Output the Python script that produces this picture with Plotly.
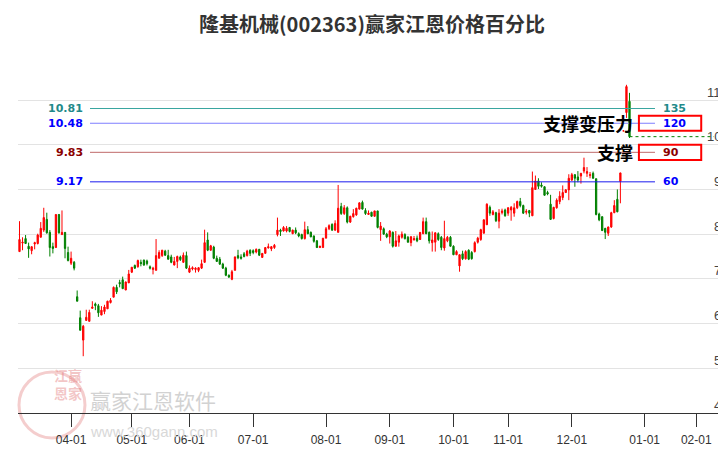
import plotly.graph_objects as go

# daily OHLC, one entry per trading day (index 0 = first candle)
open_ = [
    7.61, 7.80, 7.90, 7.73, 7.63, 7.78, 7.79, 7.93, 8.09, 8.33, 8.04, 7.72, 7.70, 8.44, 7.99, 8.04, 7.59, 7.35, 7.37,
    6.60, 6.13, 5.63, 6.07, 6.05, 6.34, 6.44, 6.40, 6.19, 6.27, 6.33, 6.47, 6.59, 6.81, 6.92, 6.98, 6.75, 6.91,
    7.15, 7.30, 7.27, 7.37, 7.42, 7.40, 7.27, 7.21, 7.19, 7.46, 7.52, 7.62, 7.52, 7.49, 7.31, 7.39, 7.49, 7.37, 7.52,
    7.15, 7.22, 7.21, 7.19, 7.24, 7.37, 7.87, 7.64, 7.71, 7.46, 7.44, 7.33, 7.24, 7.08, 6.99, 7.19, 7.52, 7.49, 7.56, 7.52,
    7.64, 7.63, 7.60, 7.66, 7.48, 7.57, 7.69, 7.67, 7.70, 7.99, 8.09, 8.07, 8.07, 8.15, 8.01, 8.09, 8.01, 7.99, 7.90, 8.10,
    8.04, 7.96, 7.85, 7.70, 7.70, 7.91, 8.12, 8.22, 8.09, 8.04, 8.62, 8.46, 8.59, 8.27, 8.39, 8.43, 8.56, 8.71, 8.53, 8.44,
    8.49, 8.40, 8.52, 8.10, 8.12, 8.00, 7.94, 8.04, 7.73, 7.82, 7.93, 7.99, 7.93, 7.81, 7.87, 7.91, 7.88, 8.01, 8.28, 8.04,
    7.81, 7.82, 8.01, 7.93, 7.69, 7.85, 7.93, 7.73, 7.54, 7.29, 7.56, 7.45, 7.64, 7.59, 7.61, 7.82, 7.88,
    8.02, 8.21, 8.60, 8.44, 8.48, 8.29, 8.48, 8.54, 8.47, 8.54, 8.47, 8.59, 8.73, 8.64, 8.49, 8.53, 8.41, 9.00, 9.19, 9.10,
    9.06, 8.93, 8.67, 8.35, 8.59, 8.73, 8.82, 8.93, 8.99, 9.21, 9.33, 9.28, 9.30, 9.41, 9.36, 9.31, 9.36, 9.24, 8.45, 8.39,
    8.13, 8.02, 8.16, 8.48, 8.78, 9.18,
    10.31, 10.72, 10.97,
]
high = [
    8.29, 7.93, 7.98, 7.81, 7.72, 7.83, 8.01, 8.27, 8.59, 8.48, 8.09, 7.81, 8.44, 8.45, 8.53, 8.04, 7.72, 7.61, 7.40,
    6.74, 6.29, 5.97, 6.31, 6.31, 6.50, 6.47, 6.44, 6.39, 6.42, 6.51, 6.57, 6.83, 6.87, 6.98, 7.05, 6.94, 7.20,
    7.26, 7.32, 7.43, 7.43, 7.43, 7.43, 7.30, 7.27, 7.89, 7.64, 7.65, 7.65, 7.65, 7.54, 7.49, 7.52, 7.52, 7.59, 7.61,
    7.30, 7.28, 7.26, 7.26, 7.43, 8.10, 8.04, 7.76, 7.74, 7.52, 7.49, 7.36, 7.27, 7.10, 7.20, 7.50, 7.65, 7.55, 7.60, 7.65,
    7.66, 7.66, 7.68, 7.67, 7.57, 7.71, 7.79, 7.73, 7.78, 8.37, 8.12, 8.18, 8.18, 8.16, 8.10, 8.15, 8.04, 8.01, 8.28, 8.18,
    8.06, 7.97, 7.87, 7.74, 7.91, 8.16, 8.22, 8.24, 8.31, 9.10, 8.70, 8.65, 8.62, 8.41, 8.56, 8.59, 8.71, 8.75, 8.58, 8.53,
    8.50, 8.52, 8.52, 8.27, 8.15, 8.03, 8.09, 8.06, 8.07, 7.99, 8.06, 8.02, 7.96, 7.96, 7.96, 7.97, 8.04, 8.37, 8.37, 8.06,
    8.06, 8.04, 8.04, 7.96, 8.30, 7.96, 7.96, 7.75, 7.64, 7.54, 7.63, 7.64, 7.66, 7.62, 7.84, 7.94, 8.12,
    8.33, 8.69, 8.64, 8.54, 8.50, 8.56, 8.57, 8.57, 8.60, 8.63, 8.69, 8.75, 8.81, 8.66, 8.56, 8.54, 9.40, 9.31, 9.25, 9.16,
    9.07, 8.97, 8.88, 8.61, 8.80, 8.96, 9.09, 9.01, 9.34, 9.37, 9.34, 9.41, 9.37, 9.71, 9.50, 9.39, 9.40, 9.24, 8.48, 8.40,
    8.14, 8.17, 8.50, 8.76, 9.00, 9.37,
    10.31, 11.34, 11.16,
]
low = [
    7.60, 7.64, 7.79, 7.47, 7.55, 7.66, 7.77, 7.93, 8.05, 8.01, 7.50, 7.57, 7.70, 8.01, 7.98, 7.46, 7.39, 7.31, 7.19,
    6.50, 5.85, 5.27, 6.07, 6.05, 6.34, 6.30, 6.15, 6.19, 6.21, 6.33, 6.45, 6.59, 6.66, 6.81, 6.78, 6.75, 6.91,
    7.13, 7.22, 7.25, 7.28, 7.29, 7.30, 7.21, 7.10, 7.19, 7.46, 7.49, 7.51, 7.43, 7.35, 7.30, 7.24, 7.40, 7.36, 7.22,
    7.13, 7.19, 7.14, 7.15, 7.22, 7.36, 7.62, 7.63, 7.44, 7.38, 7.31, 7.22, 7.06, 7.02, 6.97, 7.19, 7.44, 7.43, 7.48, 7.50,
    7.51, 7.55, 7.57, 7.51, 7.47, 7.57, 7.68, 7.62, 7.67, 7.95, 7.96, 8.06, 8.04, 8.04, 8.00, 8.00, 7.93, 7.88, 7.88, 8.00,
    7.93, 7.81, 7.69, 7.69, 7.70, 7.91, 8.09, 8.07, 8.07, 8.04, 8.43, 8.43, 8.24, 8.25, 8.37, 8.41, 8.55, 8.55, 8.43, 8.43,
    8.39, 8.39, 8.13, 7.85, 7.99, 7.91, 7.79, 7.70, 7.72, 7.72, 7.90, 7.88, 7.81, 7.73, 7.86, 7.82, 7.87, 8.00, 8.00, 7.79,
    7.61, 7.61, 7.85, 7.64, 7.63, 7.82, 7.72, 7.53, 7.53, 7.16, 7.42, 7.43, 7.42, 7.43, 7.59, 7.79, 7.85,
    8.02, 8.21, 8.41, 8.42, 8.27, 8.13, 8.44, 8.39, 8.41, 8.30, 8.39, 8.56, 8.60, 8.45, 8.44, 8.38, 8.41, 8.99, 9.01, 9.04,
    8.86, 8.87, 8.32, 8.33, 8.57, 8.67, 8.76, 8.92, 8.76, 9.19, 9.06, 9.16, 9.13, 9.36, 9.28, 9.25, 9.24, 8.42, 8.29, 8.07,
    7.89, 7.96, 8.14, 8.47, 8.49, 8.69,
    10.31, 10.60, 10.15,
]
close = [
    7.88, 7.82, 7.79, 7.67, 7.72, 7.81, 7.98, 8.13, 8.37, 8.03, 7.70, 7.68, 8.44, 8.03, 8.04, 7.68, 7.41, 7.46, 7.24,
    6.50, 5.85, 5.94, 6.14, 6.25, 6.37, 6.40, 6.24, 6.30, 6.37, 6.50, 6.52, 6.81, 6.71, 6.89, 6.78, 6.93, 7.11,
    7.26, 7.24, 7.41, 7.34, 7.31, 7.34, 7.24, 7.24, 7.52, 7.59, 7.64, 7.53, 7.44, 7.37, 7.39, 7.50, 7.43, 7.53, 7.24,
    7.24, 7.25, 7.24, 7.25, 7.34, 7.81, 7.64, 7.74, 7.46, 7.39, 7.33, 7.24, 7.08, 7.04, 7.16, 7.49, 7.47, 7.46, 7.50, 7.62,
    7.57, 7.59, 7.66, 7.53, 7.57, 7.70, 7.72, 7.72, 7.75, 8.09, 8.06, 8.15, 8.13, 8.06, 8.09, 8.03, 7.96, 7.90, 8.10, 8.01,
    7.94, 7.84, 7.70, 7.73, 7.91, 8.12, 8.19, 8.09, 8.24, 8.58, 8.46, 8.59, 8.27, 8.40, 8.46, 8.58, 8.70, 8.56, 8.46, 8.47,
    8.40, 8.52, 8.15, 8.18, 8.00, 7.94, 8.07, 7.73, 7.85, 7.96, 8.00, 7.90, 7.82, 7.94, 7.90, 7.85, 8.04, 8.28, 8.01, 7.85,
    7.87, 8.03, 7.88, 7.70, 7.90, 7.93, 7.73, 7.54, 7.61, 7.54, 7.45, 7.61, 7.44, 7.45, 7.81, 7.91, 8.10,
    8.32, 8.67, 8.47, 8.50, 8.30, 8.47, 8.52, 8.41, 8.59, 8.60, 8.59, 8.73, 8.64, 8.47, 8.51, 8.47, 9.04, 9.19, 9.07, 9.07,
    8.87, 8.90, 8.33, 8.60, 8.76, 8.85, 8.93, 8.99, 9.25, 9.33, 9.25, 9.21, 9.36, 9.49, 9.40, 9.33, 9.25, 8.44, 8.32, 8.08,
    8.04, 8.16, 8.48, 8.64, 8.50, 9.37,
    10.31, 11.30, 10.18,
]
days = list(range(len(close)))

tick_pos = [17, 37, 56, 77, 101, 122, 143, 161, 182, 206, 223]
tick_text = ["04-01", "05-01", "06-01", "07-01", "08-01", "09-01", "10-01", "11-01", "12-01", "01-01", "02-01"]

price_ticks = [4, 5, 6, 7, 8, 9, 10, 11]

level_price = [10.81, 10.48, 9.83, 9.17]
level_pct = ["135", "120", "90", "60"]
level_text_color = ["#1f8a8a", "#0000ff", "#8b0000", "#0000ff"]
level_line_color = ["#3aa6a0", "#7f7fff", "#c06a6a", "#1a1aee"]
level_boxed = [False, True, True, False]
level_note = {10.48: "支撑变压力", 9.83: "支撑"}

x_range = [-0.494, 232.8]

# the page body adds an 8px offset, so the figure is drawn 8px smaller
W, H = 718, 442

fig = go.Figure(go.Candlestick(
    x=days, open=open_, high=high, low=low, close=close,
    increasing=dict(line=dict(color="#ff0000", width=1), fillcolor="#ff0000"),
    decreasing=dict(line=dict(color="#008000", width=1), fillcolor="#008000"),
    whiskerwidth=0, hoverinfo="skip", showlegend=False,
))

num_font = dict(family="DejaVu Sans", size=11, weight="bold")
for p, pct, tc, lc, boxed in zip(level_price, level_pct, level_text_color, level_line_color, level_boxed):
    fig.add_shape(type="line", xref="paper", yref="y", x0=0.1017, x1=0.8997, y0=p, y1=p,
                  line=dict(color=lc, width=1))
    fig.add_annotation(xref="paper", yref="y", x=0.0946, y=p, text=f"{p:.2f}", showarrow=False,
                       xanchor="right", yanchor="middle", font=dict(color=tc, **num_font))
    fig.add_annotation(xref="paper", yref="y", x=0.908, y=p, text=pct, showarrow=False,
                       xanchor="left", yanchor="middle", font=dict(color=tc, **num_font))
    if boxed:
        fig.add_shape(type="rect", xref="paper", yref="y", x0=0.877, x1=0.965, y0=p - 0.17, y1=p + 0.17,
                      line=dict(color="#ff0000", width=2), fillcolor="rgba(0,0,0,0)")
    if p in level_note:
        fig.add_annotation(xref="paper", yref="y", x=0.8715, y=p, text=level_note[p], showarrow=False,
                           xanchor="right", yanchor="middle",
                           font=dict(family="Noto Sans CJK SC", size=18, color="#000000", weight="bold"))

# price labels sit just above their grid lines at the right edge
for v in price_ticks:
    fig.add_annotation(xref="paper", yref="y", x=0.996, y=v, yshift=8, text=str(v), showarrow=False,
                       xanchor="right", yanchor="middle",
                       font=dict(family="Liberation Sans", size=13, color="#444444"))

# dotted line at the last close
fig.add_shape(type="line", xref="x", yref="y", x0=days[-1], x1=x_range[1] - 4, y0=close[-1], y1=close[-1],
              line=dict(color="#008000", width=1, dash="dot"))

# watermark
fig.add_shape(type="circle", xref="paper", yref="paper", x0=0.0014, x1=0.0946, y0=-0.071, y1=0.117,
              line=dict(color="rgba(220,90,90,0.3)", width=3), layer="below")
fig.add_annotation(xref="paper", yref="paper", x=0.048, y=0.023, text="江赢<br>恩家", showarrow=False,
                   font=dict(family="Noto Sans CJK SC", size=14, color="rgba(220,90,90,0.35)", weight="bold"))
fig.add_annotation(xref="paper", yref="paper", x=0.099, y=0.037, text="赢家江恩软件", showarrow=False,
                   xanchor="left", yanchor="middle",
                   font=dict(family="Noto Sans CJK SC", size=21, color="#d2d2d2"))
fig.add_annotation(xref="paper", yref="paper", x=0.099, y=-0.054, text="www.360gann.com", showarrow=False,
                   xanchor="left", yanchor="middle",
                   font=dict(family="Liberation Sans", size=15, color="#d8d8d8"))

fig.update_layout(
    width=W, height=H,
    margin=dict(l=10, r=0, t=54, b=37, autoexpand=False),
    paper_bgcolor="white", plot_bgcolor="white",
    boxgap=0.4,
    title=dict(text="隆基机械(002363)赢家江恩价格百分比", x=0.5, xref="paper", y=1 - 17 / H,
               yref="container", xanchor="center", yanchor="middle",
               font=dict(family="Noto Sans CJK SC", size=20, color="#333333", weight="bold")),
    xaxis=dict(range=x_range, rangeslider=dict(visible=False), tickmode="array", automargin=False,
               tickvals=tick_pos, ticktext=tick_text, ticks="outside", ticklen=13, tickcolor="#333333",
               ticklabelstandoff=3,
               showline=True, linecolor="#333333", linewidth=1, showgrid=False, zeroline=False,
               tickfont=dict(family="Liberation Sans", size=12, color="#333333")),
    yaxis=dict(range=[4, 11.85], side="right", tickmode="array", tickvals=price_ticks, automargin=False,
               showticklabels=False, showgrid=True, gridcolor="#e3e3e3", gridwidth=1,
               zeroline=False, showline=False, ticks=""),
)

fig.write_html("out.html")
